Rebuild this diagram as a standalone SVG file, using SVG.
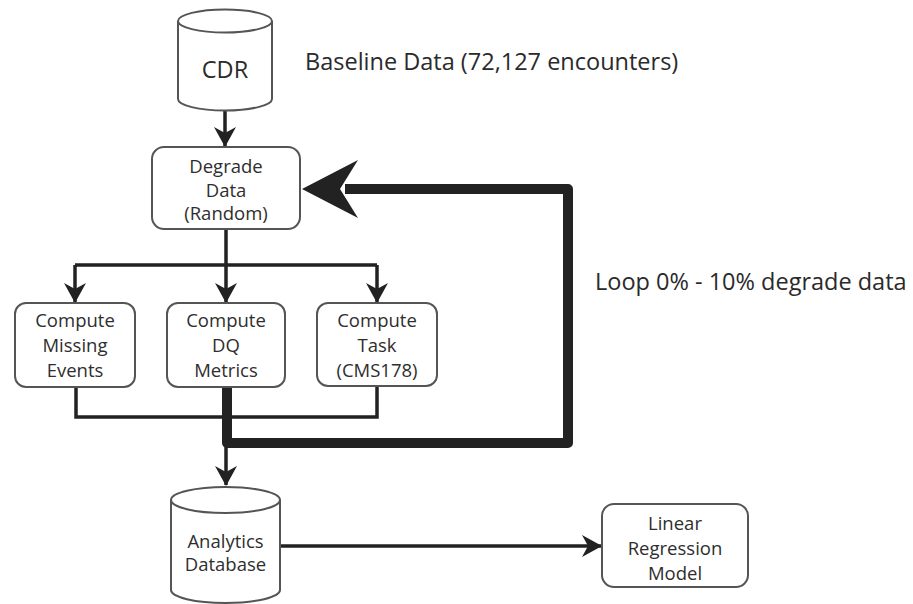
<svg xmlns="http://www.w3.org/2000/svg" width="913" height="604" viewBox="0 0 913 604">
  <style>
    .box { fill: #ffffff; stroke: #555555; stroke-width: 2; }
    .lbl { font-family: "Open Sans", "Liberation Sans", sans-serif; font-size: 18.5px; fill: #2e2e2e; text-anchor: middle; }
    .big { font-family: "Open Sans", "Liberation Sans", sans-serif; font-size: 23.5px; fill: #2a2a2a; }
    .thin { fill: none; stroke: #222222; stroke-width: 3.5; }
    .thick { fill: none; stroke: #222222; stroke-width: 10; stroke-linejoin: round; }
  </style>
  <defs>
    <marker id="head" viewBox="0 0 20 22" refX="19" refY="11" markerWidth="20" markerHeight="22" markerUnits="userSpaceOnUse" orient="auto">
      <path d="M0,0 L20,11 L0,22 L6,11 z" fill="#222222"/>
    </marker>
  </defs>
  <rect width="913" height="604" fill="#ffffff"/>

  <!-- connectors -->
  <g id="connectors">
    <path class="thin" d="M225,110 V146" marker-end="url(#head)"/>
    <path class="thin" d="M226,229 V265 M75,265 H377"/>
    <path class="thin" d="M75,265 V302" marker-end="url(#head)"/>
    <path class="thin" d="M226,265 V302" marker-end="url(#head)"/>
    <path class="thin" d="M377,265 V302" marker-end="url(#head)"/>
    <path class="thin" d="M76,387 V417 H377 V386"/>
    <path class="thin" d="M226,445 V485" marker-end="url(#head)"/>
    <path class="thin" d="M280,546 H601" marker-end="url(#head)"/>
    <path class="thick" d="M227,387 V443 H568 V189 H345"/>
    <polygon points="302,189 358,160 340,189 358,218" fill="#222222"/>
  </g>

  <g id="cdr">
    <path class="box" d="M178,21 V99 A47,11.5 0 0 0 272,99 V21"/>
    <ellipse class="box" cx="225" cy="21" rx="47" ry="11.5"/>
    <text class="big" x="225" y="78" text-anchor="middle" font-size="22">CDR</text>
  </g>

  <text class="big" x="305" y="70">Baseline Data (72,127 encounters)</text>
  <text class="big" x="595" y="290">Loop 0% - 10% degrade data</text>

  <g id="degrade">
    <rect class="box" x="152" y="147" width="148" height="82" rx="12"/>
    <text class="lbl" x="226" y="173">Degrade</text>
    <text class="lbl" x="226" y="197">Data</text>
    <text class="lbl" x="226" y="220">(Random)</text>
  </g>

  <g id="missing">
    <rect class="box" x="15" y="303" width="120" height="84" rx="11"/>
    <text class="lbl" x="75" y="327">Compute</text>
    <text class="lbl" x="75" y="352">Missing</text>
    <text class="lbl" x="75" y="377">Events</text>
  </g>

  <g id="dq">
    <rect class="box" x="167" y="303" width="118" height="84" rx="11"/>
    <text class="lbl" x="226" y="327">Compute</text>
    <text class="lbl" x="226" y="352">DQ</text>
    <text class="lbl" x="226" y="377">Metrics</text>
  </g>

  <g id="task">
    <rect class="box" x="317" y="303" width="120" height="83" rx="11"/>
    <text class="lbl" x="377" y="327">Compute</text>
    <text class="lbl" x="377" y="352">Task</text>
    <text class="lbl" x="377" y="377">(CMS178)</text>
  </g>

  <g id="analytics">
    <path class="box" d="M171,500 V590 A54.5,13 0 0 0 280,590 V500"/>
    <ellipse class="box" cx="225.5" cy="500" rx="54.5" ry="13"/>
    <text class="lbl" x="225.5" y="548">Analytics</text>
    <text class="lbl" x="225.5" y="571">Database</text>
  </g>

  <g id="linear">
    <rect class="box" x="602" y="504" width="146" height="83" rx="12"/>
    <text class="lbl" x="675" y="530">Linear</text>
    <text class="lbl" x="675" y="555">Regression</text>
    <text class="lbl" x="675" y="580">Model</text>
  </g>
</svg>
